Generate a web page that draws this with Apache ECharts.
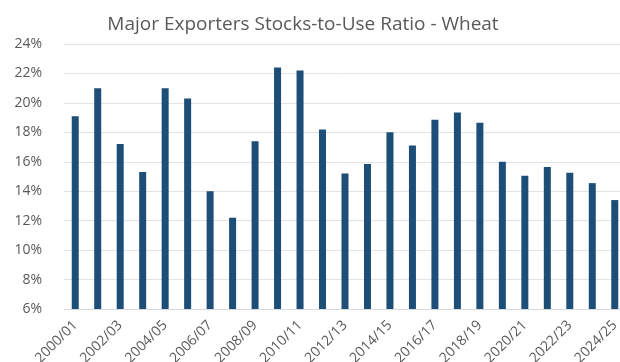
<!DOCTYPE html>
<html><head><meta charset="utf-8">
<script src="https://cdn.jsdelivr.net/npm/echarts@6/dist/echarts.min.js"></script>
<style>html,body{margin:0;padding:0;background:#fff}#c{width:620px;height:362px}</style>
</head><body><div id="c"></div>
<script>
const title = 'Major Exporters Stocks-to-Use Ratio - Wheat';
const categories = ['2000/01','2001/02','2002/03','2003/04','2004/05','2005/06','2006/07','2007/08','2008/09','2009/10','2010/11','2011/12','2012/13','2013/14','2014/15','2015/16','2016/17','2017/18','2018/19','2019/20','2020/21','2021/22','2022/23','2023/24','2024/25'];
const ratio = [19.1,21.0,17.2,15.3,21.0,20.3,14.0,12.2,17.4,22.4,22.2,18.2,15.2,15.85,18.0,17.1,18.85,19.35,18.65,16.0,15.05,15.65,15.25,14.55,13.4];
const yMin = 6, yMax = 24, yStep = 2;

const chart = echarts.init(document.getElementById('c'));
chart.setOption({
  animation: false,
  title: {
    text: title, left: 298, top: 10, textAlign: 'center',
    textStyle: {fontFamily: 'Open Sans', fontSize: 19, fontWeight: 'normal', color: '#595959'}
  },
  grid: {left: 64, width: 562, top: 44, bottom: 53, containLabel: false, outerBoundsMode: 'none'},
  xAxis: {
    type: 'category', data: categories,
    axisLine: {lineStyle: {color: '#d9d9d9'}},
    axisTick: {show: false},
    axisLabel: {interval: 1, rotate: 45, fontFamily: 'Open Sans', fontSize: 14, color: '#595959', margin: 14}
  },
  yAxis: {
    type: 'value', min: yMin, max: yMax, interval: yStep,
    axisLine: {show: false}, axisTick: {show: false},
    axisLabel: {formatter: '{value}%', fontFamily: 'Open Sans', fontSize: 14, color: '#595959', margin: 22},
    splitLine: {lineStyle: {color: '#e3e3e3'}}
  },
  series: [{
    type: 'bar', data: ratio, barWidth: 7,
    itemStyle: {color: '#1c4e77'}
  }]
});
</script></body></html>
